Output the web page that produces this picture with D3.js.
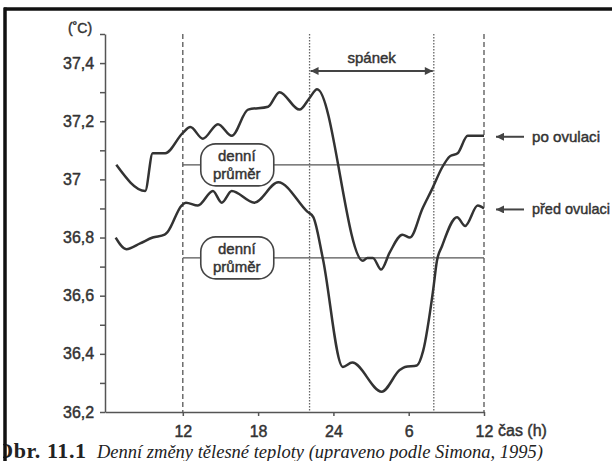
<!DOCTYPE html>
<html>
<head>
<meta charset="utf-8">
<script src="https://cdn.jsdelivr.net/npm/d3@7"></script>
<style>
  body { margin: 0; background: #fff; }
  svg { display: block; }
  .axis path, .axis line { stroke: #555; stroke-width: 1.5; }
  .axis text, .lbl { font-family: "Liberation Sans", Arial, sans-serif; font-size: 16px; fill: #333; stroke: #333; stroke-width: 0.45; }
</style>
</head>
<body>
<div id="chart"></div>
<script>
// hours run continuously: 12 -> 36 means noon to noon next day
const hoursAfter = [6.7, 9.0, 9.6, 10.6, 12.0, 12.6, 13.6, 14.8, 15.9, 17.2, 18.8, 19.7, 21.3, 22.1, 22.7, 26.35, 26.7, 27.15, 27.8, 28.5, 29.5, 30.1, 31.1, 31.9, 32.65, 33.3, 33.9, 34.7, 36.0];
const tempAfter = [37.05, 36.96, 37.09, 37.09, 37.16, 37.18, 37.14, 37.19, 37.15, 37.24, 37.25, 37.30, 37.24, 37.28, 37.31, 36.72, 36.73, 36.73, 36.69, 36.75, 36.81, 36.80, 36.90, 36.97, 37.04, 37.08, 37.09, 37.15, 37.15];

const hoursBefore = [6.65, 7.5, 8.6, 9.6, 10.55, 10.8, 11.9, 12.25, 13.2, 14.4, 15.1, 15.9, 17.7, 19.6, 21.9, 22.4, 23.15, 24.75, 25.5, 27.85, 29.3, 29.7, 30.65, 31.15, 31.95, 32.25, 32.65, 33.85, 34.5, 35.5, 36.0];
const tempBefore = [36.80, 36.76, 36.78, 36.80, 36.81, 36.82, 36.91, 36.92, 36.91, 36.96, 36.92, 36.96, 36.92, 36.99, 36.89, 36.87, 36.73, 36.355, 36.37, 36.27, 36.345, 36.355, 36.36, 36.41, 36.62, 36.72, 36.77, 36.87, 36.84, 36.91, 36.90];

const dailyMeans = [37.05, 36.73];
const meanLabel = ["denní", "průměr"];
const seriesNames = ["po ovulaci", "před ovulaci"];
const seriesLabelWidths = [68, 78];

const majorTicks = [36.2, 36.4, 36.6, 36.8, 37.0, 37.2, 37.4];
const minorTicks = [36.3, 36.5, 36.7, 36.9, 37.1, 37.3, 37.5];
const hourTicks = [12, 18, 24, 30, 36];
const hourLabels = ["12", "18", "24", "6", "12"];
const sleepRange = [22.1, 32.0];
const dashedHours = [12, 36];

const dimensions = {
  width: 612,
  height: 461,
  margin: { top: 34, right: 128, bottom: 49, left: 105 },
};
dimensions.containerWidth = dimensions.width - dimensions.margin.left - dimensions.margin.right;
dimensions.containerHeight = dimensions.height - dimensions.margin.top - dimensions.margin.bottom;

const svg = d3.select("#chart").append("svg")
  .attr("width", dimensions.width)
  .attr("height", dimensions.height);

const defs = svg.append("defs");
defs.append("marker")
  .attr("id", "head")
  .attr("viewBox", "0 0 10 10")
  .attr("refX", 10).attr("refY", 5)
  .attr("markerWidth", 13).attr("markerHeight", 8)
  .attr("markerUnits", "userSpaceOnUse")
  .attr("orient", "auto-start-reverse")
  .append("path").attr("d", "M0,0 L10,5 L0,10 Z").attr("fill", "#444");

const container = svg.append("g")
  .attr("transform", `translate(${dimensions.margin.left}, ${dimensions.margin.top})`);

// Scales
const xScale = d3.scaleLinear().domain([5.8, 36]).range([0, dimensions.containerWidth]);
const yScale = d3.scaleLinear().domain([36.2, 37.5]).range([dimensions.containerHeight, 0]);

// Axes
const yAxisG = container.append("g").attr("class", "axis")
  .attr("font-family", "Liberation Sans, Arial, sans-serif")
  .call(d3.axisLeft(yScale).tickValues(majorTicks.concat(minorTicks)).tickSize(5).tickSizeOuter(0)
    .tickFormat((d) => majorTicks.includes(d) ? d3.format(".1f")(d).replace(".0", "").replace(".", ",") : ""));
yAxisG.attr("font-family", "Liberation Sans, Arial, sans-serif");
yAxisG.selectAll(".tick text").attr("text-anchor", "start").attr("x", -42);
yAxisG.append("text")
  .attr("x", -37).attr("y", -1)
  .attr("text-anchor", "start")
  .style("font-size", "14px")
  .text("(˚C)");

const xAxisG = container.append("g").attr("class", "axis")
  .attr("transform", `translate(0, ${dimensions.containerHeight})`)
  .call(d3.axisBottom(xScale).tickValues(hourTicks).tickSize(4).tickSizeOuter(0)
    .tickFormat((d, i) => hourLabels[i]));
xAxisG.attr("font-family", "Liberation Sans, Arial, sans-serif");
xAxisG.selectAll(".tick text").attr("dy", "1.15em")
  .style("font-family", "Liberation Sans, Arial, sans-serif");
xAxisG.append("text")
  .attr("x", xScale(36) + 14).attr("y", 24)
  .attr("text-anchor", "start")
  .text("čas (h)");

// Vertical guide lines
container.selectAll(".dash")
  .data(dashedHours)
  .join("line")
  .attr("x1", (d) => xScale(d)).attr("x2", (d) => xScale(d))
  .attr("y1", 0).attr("y2", dimensions.containerHeight)
  .attr("stroke", "#555").attr("stroke-width", 1.3)
  .attr("stroke-dasharray", "5,3");

container.selectAll(".dot")
  .data(sleepRange)
  .join("line")
  .attr("x1", (d) => xScale(d)).attr("x2", (d) => xScale(d))
  .attr("y1", 0).attr("y2", dimensions.containerHeight)
  .attr("stroke", "#666").attr("stroke-width", 1.3)
  .attr("stroke-dasharray", "1.5,1.5");

// Sleep arrow
container.append("line")
  .attr("x1", xScale(sleepRange[0]) + 1).attr("x2", xScale(sleepRange[1]) - 1)
  .attr("y1", 37).attr("y2", 37)
  .attr("stroke", "#444").attr("stroke-width", 2)
  .attr("marker-start", "url(#head)").attr("marker-end", "url(#head)");
container.append("text")
  .attr("class", "lbl")
  .attr("x", xScale((sleepRange[0] + sleepRange[1]) / 2)).attr("y", 29)
  .attr("text-anchor", "middle")
  .style("font-size", "15px")
  .text("spánek");

// Daily mean lines
container.selectAll(".mean")
  .data(dailyMeans)
  .join("line")
  .attr("x1", xScale(12)).attr("x2", xScale(36))
  .attr("y1", (d) => yScale(d)).attr("y2", (d) => yScale(d))
  .attr("stroke", "#555").attr("stroke-width", 1.4);

// Curves
const line = d3.line()
  .x((d) => xScale(d[0]))
  .y((d) => yScale(d[1]))
  .curve(d3.curveMonotoneX);

const series = [d3.zip(hoursAfter, tempAfter), d3.zip(hoursBefore, tempBefore)];
container.selectAll(".curve")
  .data(series)
  .join("path")
  .attr("d", line)
  .attr("fill", "none")
  .attr("stroke", "#333")
  .attr("stroke-width", 2.5)
  .attr("stroke-linejoin", "round");

// Mean label boxes
const boxes = container.selectAll(".box")
  .data(dailyMeans)
  .join("g")
  .attr("transform", (d) => `translate(${xScale(16.3)}, ${yScale(d)})`);
boxes.append("rect")
  .attr("x", -36).attr("y", -21).attr("width", 73).attr("height", 42)
  .attr("rx", 15)
  .attr("fill", "#fff").attr("stroke", "#444").attr("stroke-width", 1.6);
boxes.selectAll("text")
  .data(meanLabel)
  .join("text")
  .attr("class", "lbl")
  .attr("x", 0).attr("y", (d, i) => i === 0 ? -4 : 14)
  .attr("text-anchor", "middle")
  .style("font-size", "15px")
  .text((d) => d);

// Series labels with arrows
const tags = container.selectAll(".tag")
  .data(seriesNames)
  .join("g")
  .attr("transform", (d, i) => `translate(${xScale(36)}, ${yScale(i === 0 ? tempAfter[tempAfter.length - 1] : tempBefore[tempBefore.length - 1]) + 1})`);
tags.append("line")
  .attr("x1", 40).attr("x2", 12)
  .attr("y1", 0).attr("y2", 0)
  .attr("stroke", "#444").attr("stroke-width", 2)
  .attr("marker-end", "url(#head)");
tags.append("text")
  .attr("class", "lbl")
  .attr("x", 48).attr("y", 5)
  .attr("textLength", (d, i) => seriesLabelWidths[i])
  .attr("lengthAdjust", "spacingAndGlyphs")
  .style("font-size", "15px")
  .text((d) => d);

// Caption (cut at the bottom edge as in the scanned page)
const caption = svg.append("g")
  .style("font-family", "Liberation Serif, serif")
  .attr("fill", "#222");
caption.append("text")
  .attr("x", -4).attr("y", 458)
  .style("font-weight", "bold").style("font-size", "22px")
  .attr("textLength", 90).attr("lengthAdjust", "spacing")
  .text("Obr. 11.1");
caption.append("text")
  .attr("x", 97).attr("y", 458)
  .style("font-style", "italic").style("font-size", "18.5px")
  .text("Denní změny tělesné teploty (upraveno podle Simona, 1995)");

// Frame
svg.append("line").attr("x1", 4).attr("x2", 612).attr("y1", 9).attr("y2", 9)
  .attr("stroke", "#111").attr("stroke-width", 3.5);
svg.append("rect").attr("x", 0).attr("y", 9).attr("width", 3).attr("height", 452).attr("fill", "#fff");
svg.append("line").attr("x1", 5).attr("x2", 5).attr("y1", 7.5).attr("y2", 461)
  .attr("stroke", "#111").attr("stroke-width", 3.5);
</script>
</body>
</html>
